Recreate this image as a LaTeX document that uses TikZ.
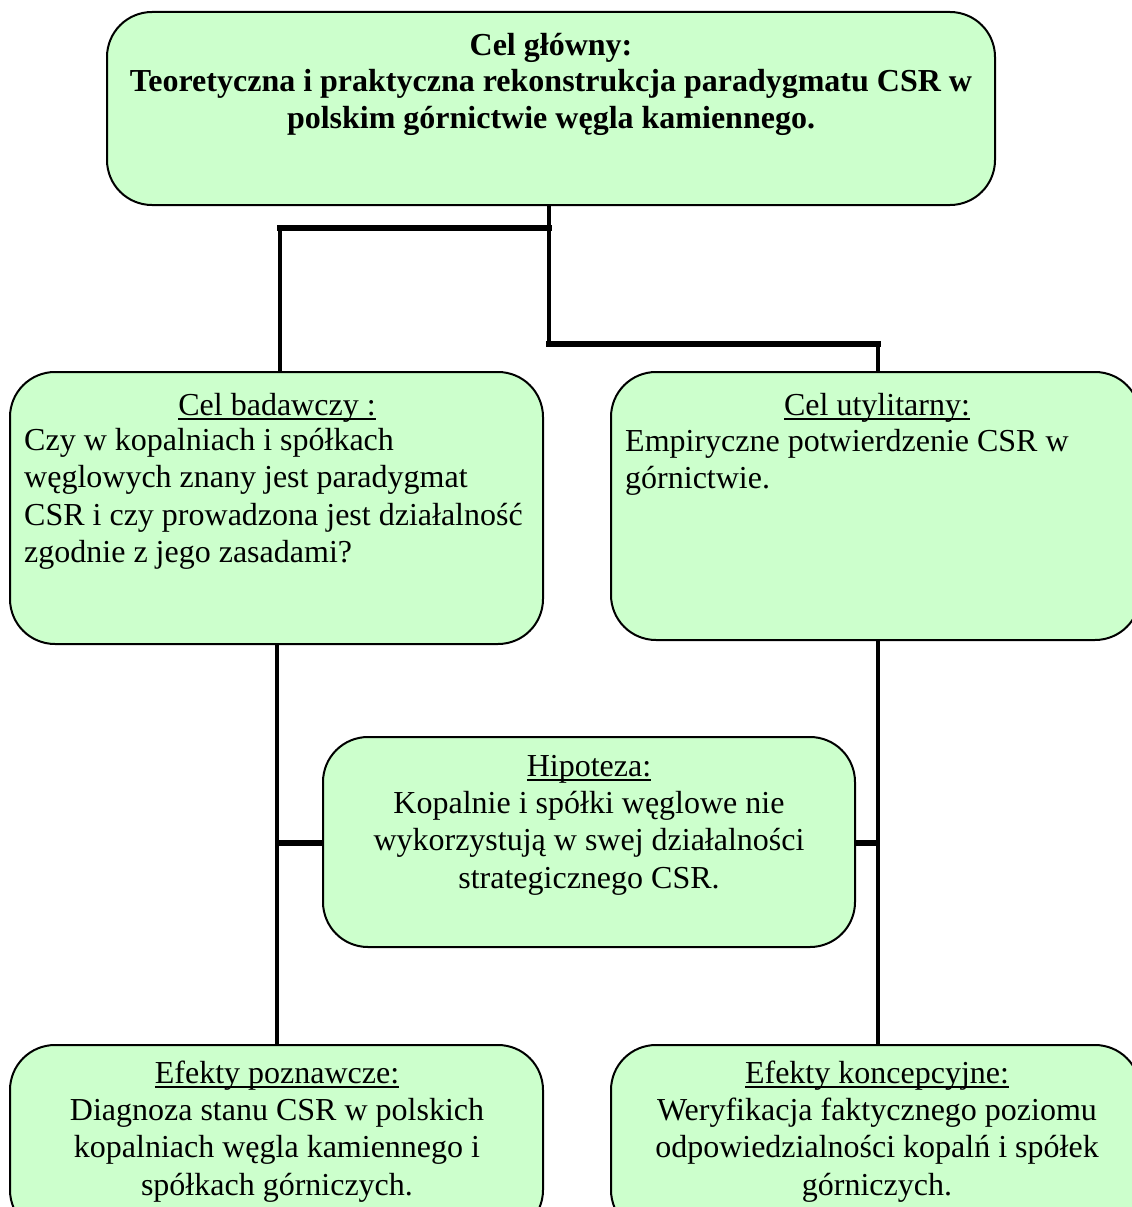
\documentclass[tikz,border=0pt]{standalone}
\usepackage{fontspec}
\setmainfont{Liberation Serif}
\definecolor{boxgreen}{HTML}{CCFFCC}
% underline at a fixed depth below the baseline
\newcommand\ulword[1]{\setbox0\hbox{#1}\rlap{\rule[-4.5pt]{\wd0}{1.6pt}}\box0}
\begin{document}
\begin{tikzpicture}[x=1pt,y=-1pt,
  goalbox/.style={draw=black,line width=2pt,fill=boxgreen,rounded corners=45pt,
    minimum width=#1,inner sep=0pt},
  txt/.style={inner sep=0pt,font=\fontsize{32}{37.5}\selectfont},
  vline/.style={line width=4pt},
  hline/.style={line width=6.5pt,line cap=rect}]
\clip (0,0) rectangle (1132,1207);
\fill[white] (0,0) rectangle (1132,1207);

% boxes
\node[goalbox=888pt,minimum height=193pt] (main) at (551,108.5) {};
\node[goalbox=533pt,minimum height=272pt] (goalL) at (276.5,508) {};
\node[goalbox=529pt,minimum height=268pt] (goalU) at (875.5,506) {};
\node[goalbox=532pt,minimum height=210pt] (hyp) at (589,842) {};
\node[goalbox=533pt,minimum height=190pt] (effL) at (276.5,1140) {};
\node[goalbox=529pt,minimum height=190pt] (effK) at (875.5,1140) {};

% texts (multi-line nodes are placed by the baseline of their last line)
\node[txt,anchor=base,align=center,font=\fontsize{32}{36.5}\selectfont\bfseries] (mainT) at (551,128)
  {Cel główny:\\Teoretyczna i praktyczna rekonstrukcja paradygmatu CSR w\\polskim górnictwie węgla kamiennego.};
\node[txt,anchor=base] (goalLH) at (277,415) {\ulword{Cel badawczy :}};
\node[txt,anchor=base west,align=left] (goalLT) at (24,562.5)
  {Czy w kopalniach i spółkach\\węglowych znany jest paradygmat\\CSR i czy prowadzona jest działalność\\zgodnie z jego zasadami?};
\node[txt,anchor=base] (goalUH) at (877,415) {\ulword{Cel utylitarny:}};
\node[txt,anchor=base west,align=left] (goalUT) at (625,488.5)
  {Empiryczne potwierdzenie CSR w\\górnictwie.};
\node[txt,anchor=base] (hypH) at (589,776) {\ulword{Hipoteza:}};
\node[txt,anchor=base,align=center] (hypT) at (589,888)
  {Kopalnie i spółki węglowe nie\\wykorzystują w swej działalności\\strategicznego CSR.};
\node[txt,anchor=base] (effLH) at (277,1083) {\ulword{Efekty poznawcze:}};
\node[txt,anchor=base,align=center] (effLT) at (277,1195)
  {Diagnoza stanu CSR w polskich\\kopalniach węgla kamiennego i\\spółkach górniczych.};
\node[txt,anchor=base] (effKH) at (877,1083) {\ulword{Efekty koncepcyjne:}};
\node[txt,anchor=base,align=center] (effKT) at (877,1195)
  {Weryfikacja faktycznego poziomu\\odpowiedzialności kopalń i spółek\\górniczych.};

% connectors between goals
\coordinate (ja) at (549,228);
\coordinate (jb) at (549,344);
\coordinate (la) at (280,228);
\coordinate (rb) at (878,344);
\draw[vline] (main.south -| ja) -- (jb);
\draw[vline] (la) -- (la |- goalL.north);
\draw[vline] (rb) -- (rb |- goalU.north);
\draw[hline] (la) -- (ja);
\draw[hline] (jb) -- (rb);

% connectors to effects and hypothesis
\coordinate (lc) at (277,843);
\coordinate (rc) at (878,843);
\draw[vline] (lc |- goalL.south) -- (lc |- effL.north);
\draw[vline] (rc |- goalU.south) -- (rc |- effK.north);
\draw[hline,line cap=butt] (lc) -- (lc -| hyp.west);
\draw[hline,line cap=butt] (lc -| hyp.east) -- (rc);
\end{tikzpicture}
\end{document}
